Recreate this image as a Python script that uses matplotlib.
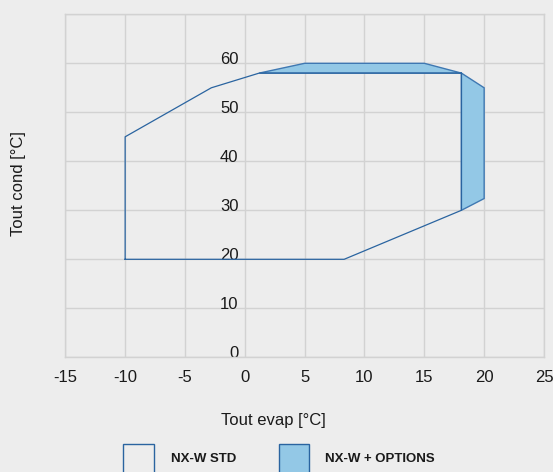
import matplotlib

matplotlib.use("Agg")
import matplotlib.pyplot as plt
import matplotlib.transforms as mtransforms
from matplotlib.patches import Rectangle

# Operating envelope (Tout evap, Tout cond)
std_x = [-10, -10, -2.8, 1.2, 18.1, 18.1, 8.3, -10]
std_y = [20, 45, 55, 58, 58, 30, 20, 20]
opt_x = [1.2, 5, 15, 18.1, 20, 20, 18.1, 18.1]
opt_y = [58, 60, 60, 58, 55, 32.4, 30, 58]

x_ticks = [-15, -10, -5, 0, 5, 10, 15, 20, 25]
y_ticks = [0, 10, 20, 30, 40, 50, 60]
legend_labels = ["NX-W STD", "NX-W + OPTIONS"]

BG = "#ededed"
GRID = "#d2d2d2"
EDGE = "#2a64a0"
FILL = "#93c8e6"

plt.rcParams["font.family"] = ["Liberation Sans", "DejaVu Sans"]
plt.rcParams["axes.unicode_minus"] = False

fig = plt.figure(figsize=(5.53, 4.72), dpi=100, facecolor=BG)
ax = fig.add_axes([0.1181, 0.2430, 0.8656, 0.7267], facecolor=BG)

ax.fill(opt_x, opt_y, facecolor=FILL, edgecolor="#3f78b2", linewidth=1.0, zorder=2)
ax.plot(std_x, std_y, color=EDGE, linewidth=0.9, zorder=3)

ax.set_xlim(-15, 25)
ax.set_ylim(0, 70)
ax.set_xticks(x_ticks)
ax.set_xticklabels([str(t) for t in x_ticks])
ax.set_yticks(y_ticks + [70])
ax.set_yticklabels([str(t) for t in y_ticks] + [""])
ax.grid(True, color=GRID, linewidth=1.0)
ax.set_axisbelow(True)

# y tick labels sit on the x=0 line
ax.spines["left"].set_position(("data", 0))
ax.spines["left"].set_visible(False)
ax.axvline(-15, color=GRID, linewidth=1.0, clip_on=False, zorder=1)
for side in ["top", "right", "bottom"]:
    ax.spines[side].set_color(GRID)
    ax.spines[side].set_linewidth(1.0)

ax.tick_params(axis="both", length=0, labelsize=12, labelcolor="#1a1a1a")
ax.tick_params(axis="x", pad=9)
ax.tick_params(axis="y", pad=4.5)
offset = mtransforms.ScaledTranslation(0, 4.1 / 72, fig.dpi_scale_trans)
for label in ax.get_yticklabels():
    label.set_transform(label.get_transform() + offset)

ax.set_xlabel("Tout evap [°C]", fontsize=12, color="#1a1a1a", va="center")
ax.xaxis.set_label_coords(0.434, -0.1857)
ax.set_ylabel("Tout cond [°C]", fontsize=12, color="#1a1a1a", va="center")
ax.yaxis.set_label_coords(-0.0988, 0.506)

# legend boxes along the bottom edge
W, H = 553.0, 472.0
boxes = [(122.7, "none"), (278.7, FILL)]
text_x = [171, 325.3]
for (bx, fc), tx, lab in zip(boxes, text_x, legend_labels):
    fig.add_artist(
        Rectangle(
            (bx / W, 1 - 474 / H), 30.8 / W, 30 / H,
            transform=fig.transFigure, facecolor=fc, edgecolor=EDGE, linewidth=1.0,
        )
    )
    fig.text(tx / W, 1 - 459.3 / H, lab, fontsize=9.5, fontweight="bold",
             color="#1a1a1a", va="center", ha="left")

fig.savefig("out.png", dpi=100, facecolor=BG)
